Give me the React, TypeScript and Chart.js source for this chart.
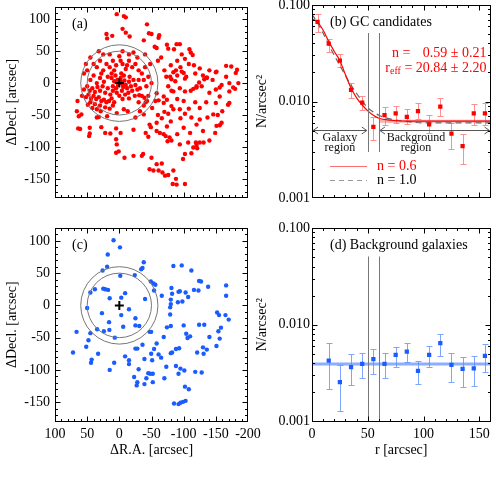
import React, { useEffect, useRef } from "react";
import { Chart, registerables } from "chart.js";

Chart.register(...registerables);

const SERIF = "'Liberation Serif', 'Times New Roman', Times, serif";

// ---------- tick labels ----------
const raTicks = [100, 50, 0, -50, -100, -150, -200];
const decTicks = [100, 50, 0, -50, -100, -150];
const rTicks = [0, 50, 100, 150];
const densityTicks = [0.001, 0.01, 0.1];
const densityLabels = ["0.001", "0.010", "0.100"];

// ---------- region / annotation values ----------
const centre = [0, 0];
const circleRadii = [50, 60];
const regionEdges = [50, 60];
const rMax = 160;

// ---------- (b) GC candidates radial profile ----------
const gcR = [5, 15, 25, 35, 45, 55, 65, 75, 85, 95, 105, 115, 125, 135, 145, 155];
const gcN = [0.0669, 0.0397, 0.0265, 0.0132, 0.00973, 0.00545, 0.00723, 0.00752, 0.00693, 0.00796, 0.0058, 0.00883, 0.00465, 0.00344, 0.00752, 0.00752];
const gcHi = [0.0805, 0.0448, 0.0307, 0.0157, 0.0114, 0.00693, 0.00883, 0.00898, 0.00835, 0.00957, 0.00723, 0.0108, 0.006, 0.00465, 0.00935, 0.00957];
const gcLo = [0.052, 0.0327, 0.0228, 0.0108, 0.00815, 0.00402, 0.00568, 0.00605, 0.0059, 0.00652, 0.00471, 0.00705, 0.00324, 0.00225, 0.00568, 0.00568];
const gcBackground = 0.00625;

// model curves
const modelR = [0, 5, 10, 15, 20, 25, 30, 35, 40, 45, 50, 55, 60, 70, 80, 90, 100, 120, 140, 160];
const sersic06 = [0.072, 0.0664, 0.0547, 0.042, 0.033, 0.0265, 0.0189, 0.0138, 0.0109, 0.0092, 0.008, 0.0072, 0.0067, 0.0064, 0.00628, 0.00625, 0.00625, 0.00625, 0.00625, 0.00625];
const sersic10 = [0.08, 0.065, 0.051, 0.039, 0.03, 0.0235, 0.0185, 0.0148, 0.0121, 0.0101, 0.0086, 0.0078, 0.0072, 0.0066, 0.0063, 0.0061, 0.006, 0.006, 0.006, 0.006];

// ---------- (d) background galaxies radial profile ----------
const bgR = [15, 25, 35, 45, 55, 65, 75, 85, 95, 105, 115, 125, 135, 145, 155];
const bgN = [0.00426, 0.00255, 0.00364, 0.00394, 0.0044, 0.00394, 0.00488, 0.00527, 0.00333, 0.00488, 0.00644, 0.00385, 0.00349, 0.00355, 0.00477];
const bgHi = [0.00644, 0.00385, 0.00496, 0.00515, 0.00562, 0.00507, 0.00594, 0.00644, 0.00426, 0.00608, 0.00803, 0.00507, 0.00468, 0.0048, 0.0063];
const bgLo = [0.00216, 0.00127, 0.00239, 0.0028, 0.0031, 0.00284, 0.00364, 0.00409, 0.00244, 0.00369, 0.0048, 0.00255, 0.00226, 0.00233, 0.00323];
const bgLevel = 0.00394;

// ---------- (a) GC candidate positions [dRA, dDec] ----------
const gcPositions = [
  [4, 108], [-7, 105], [-10, 103], [-5, 85], [-10, 79], [-16, 73], [20, 77], [19, 70], [11, 74], [-43, 92], [-46, 78], [-50, 77], [-62, 75], [-61, 71], [-38, 67], [-55, 57], [-58, 55], [-74, 60], [-76, 54], [-89, 61], [-94, 61], [-85, 53], [-109, 53], [-111, 48], [-97, 45], [-114, 44], [-102, 38], [-116, 28], [-125, 23],
  [-60, 35], [-70, 20], [-65, 40], [-80, 28], [-90, 35], [-88, 20], [-95, 25], [-108, 30], [-118, 15], [-130, 12], [-140, 20], [-145, 5], [-128, -5], [-140, -15], [-150, -10], [-135, -30], [-118, -30], [-100, -28], [-90, -25], [-108, -40], [-95, -55], [-80, -60], [-70, -45], [-60, -50], [-120, -65], [-130, -75], [-110, -78], [-100, -70], [-90, -80], [-140, -90],
  [65, -28], [66, -44], [63, -52], [59, -49], [64, -71], [61, -72], [46, -70], [46, -79], [47, -83], [35, -54], [32, -53], [28, -69], [22, -78], [14, -79], [5, -71], [5, -88], [4, -96], [5, -109], [1, -107], [-2, -78], [-8, -117], [-22, -73], [-22, -114], [-35, -114], [-37, -111], [-50, -117], [-41, -78], [-45, -84], [-49, -69], [-47, -65], [-58, -127], [-66, -126], [-61, -137], [-47, -135], [-53, -137], [-67, -140], [-71, -145], [-76, -144], [-84, -137], [-89, -159], [-102, -158], [-83, -158], [-88, -150], [-102, -111], [-112, -110], [-99, -119], [-115, -101], [-119, -93], [-125, -93], [-131, -93], [-120, -97], [-121, -102], [-107, -93], [-94, -96], [-78, -85], [-81, -90], [-75, -91], [-72, -83], [-69, -80], [-63, -78], [-58, -75], [-74, -68], [-58, -62], [-66, -55], [-76, -48], [-84, -41], [-94, -41], [-81, -36], [-102, -48], [-112, -54], [-125, -57], [-125, -39], [-137, -54], [-146, -49], [-150, -31], [-153, -50], [-160, -44], [-151, -67], [-156, -66], [-149, -78], [-159, -62], [-169, -34], [-171, -31], [-156, -21], [-171, -13], [-171, 0], [-166, 10], [-183, 21], [-181, 16], [-180, -9], [-177, -7], [-185, 0],
  [-174, 26], [-166, 27], [-151, 18], [-136, 8], [-124, 1], [-120, -5], [-111, -12], [-115, -9], [-102, -13], [-94, -8], [-84, -13], [-74, -26], [-69, -31], [-61, -27], [-56, -28], [-51, -39], [-43, -28], [-58, -16], [-69, -21], [-76, -5], [-81, -12], [-87, 3], [-102, 7], [-97, 18], [-100, 16], [-104, 10], [-84, 17], [-73, 10], [-79, 10], [-81, 6], [-90, 12], [-120, -7], [-136, 9], [-132, 6], [-150, 17], [-156, -7], [-159, -3],
  [-31, -19], [-39, -23], [-41, -30], [-32, -44], [-38, -49], [-25, -54], [-13, -44], [-7, -41], [4, -47], [19, -52], [29, -44], [35, -41], [42, -39], [49, -34],
  [0, 0], [-3, 2], [2, -3], [-5, -2], [3, 5], [-8, 4], [-6, -6], [5, -8], [-10, -3], [-12, -8], [-4, -12], [8, 3], [-2, 8], [-15, 2], [-7, 12], [10, -5], [-18, -5], [-20, -12], [-9, -18], [-14, -15], [4, -15], [-25, -3], [-22, 5], [-16, 10], [-3, 15], [6, 12], [12, 8], [-28, -10], [-24, -20], [-5, -25], [-15, -24], [0, -20],
  [58, -20], [52, -22], [48, -18], [44, -24], [40, -20], [36, -25], [32, -22], [28, -28], [24, -26], [20, -30], [16, -28], [12, -24], [8, -30], [45, -30], [38, -33], [30, -35], [22, -38], [15, -40], [10, -35], [55, -10], [50, -5], [46, -12], [42, -8], [38, -14], [34, -6], [30, -12], [26, -5], [22, -15], [18, -8], [14, -18], [10, -12],
  [40, 30], [35, 25], [30, 35], [25, 20], [20, 30], [15, 25], [10, 35], [5, 28], [-5, 30], [-10, 22], [-15, 35], [-20, 25], [-25, 30], [-30, 20], [-35, 15], [-40, 25], [-38, 5], [-42, -5], [-30, -30], [-35, -20], [-45, 10], [-30, 5], [-28, 40], [-15, 45], [0, 42], [15, 45], [25, 45], [32, 50], [45, 40], [50, 20], [55, 15], [45, 5], [52, 30], [-5, 50], [-22, 48], [-40, 45], [-48, 30], [-50, 0], [-45, -20], [18, 10], [24, 2], [30, 8], [35, 0], [40, 12], [28, 15], [12, 15], [-12, 28], [-2, 35], [8, 20], [-32, -8], [-38, -35],
];

// ---------- (c) background galaxy positions [dRA, dDec] ----------
const bgPositions = [
  [9, 101], [-1, 90], [18, 79], [19, 60], [26, 54], [-34, 56], [-36, 58], [-38, 67], [-24, 47], [-1.5, 46], [-49, 37], [-53, 34], [-56, 32], [-54, 23], [-40, 10], [-66, 15], [25, 26], [22, 25], [17.5, 24], [45, 20], [38, 25], [15, 11], [-3, 12], [-9, 19], [50, -4], [27, -12], [-3, -15], [-15, -6], [-25, -20], [16, -26],
  [-84, 61], [-97, 62], [-112, 54], [-81, 27], [-82, 18], [-92, 21], [-94, 22], [-80, 9], [-80, 2], [-79, -3], [-79, -14], [-91, 5], [-98, 6], [-103, 20], [-107, 13], [-116, 24], [-124, 38], [-127, 37], [-123, 23], [-138, 29], [-166, 31], [-166, 15], [-152, -11], [-155, -15], [-165, -15], [-170, -22],
  [66.5, -41], [72, -73], [51.5, -64], [48, -54], [45, -43], [34.5, -37], [24, -40], [15.5, -38], [7, -50], [-6, -33], [43, -84], [44, -89], [33, -75], [15, -100], [8, -89], [-9, -79], [-15, -85], [-15, -91], [-25, -67], [-28, -67], [-36, -61], [-39, -83], [-30, -99], [-23, -111], [-28, -119], [-27, -124], [-39, -122], [-42, -113], [-45, -105], [-48, -106], [-52, -106], [-52, -119], [-51, -85], [-49.5, -75], [-54, -67.5], [-58, -59], [-61, -76], [-65, -81], [-69, -49], [-73, -95], [-70, -113], [-80, -74], [-82, -73], [-88, -67.5], [-93, -66.5], [-88, -94], [-92, -106], [-95, -98], [-101, -101], [-102, -126], [-108, -130], [-85, -152], [-92, -153], [-95, -151], [-99, -149.5], [-103, -148], [-118, -103], [-128, -104], [-121, -73], [-131, -75], [-130, -65], [-136, -68.5], [-140, -49], [-151, -63], [-156, -51.5], [-154, -40], [-158, -34.5], [-49.5, -41], [-47, -41], [-106, -50.5], [-110, -48], [-104, -44], [-74, -34], [-80, -32], [-100, -31], [-124, -30], [-132, -30], [-25, -31], [-31, -32],
];

// ---------- helpers ----------
const RED = "#ff0000";
const BLUE = "#1a5cff";
const tickFont = { family: SERIF, size: 14 };
const titleFont = { family: SERIF, size: 14 };

function steps(a: number, b: number, s: number) {
  const out: number[] = [];
  for (let v = a; v <= b + 1e-9; v += s) out.push(v);
  return out;
}
const posMinor = steps(-200, 120, 10);
const rMinor = steps(0, 160, 10);
const logMinor = [2, 3, 4, 5, 6, 7, 8, 9].flatMap((m) => [m * 0.001, m * 0.01]);

const fix = (w?: number, h?: number) => (s: any) => {
  if (w !== undefined) s.width = w;
  if (h !== undefined) s.height = h;
  s.paddingLeft = 0;
  s.paddingRight = 0;
  s.paddingTop = 0;
  s.paddingBottom = 0;
};
const setTicks = (vals: number[]) => (s: any) => {
  s.ticks = vals.slice().sort((a, b) => a - b).map((v) => ({ value: v }));
};

function makeFrame(xMajor: number[], xMinor: number[], yMajor: number[], yMinor: number[]) {
  return {
    id: "idlFrame",
    afterDatasetsDraw(chart: any) {
      const { ctx, chartArea: a, scales } = chart;
      const x = scales.x;
      const y = scales.y;
      const L = Math.round(a.left) + 0.5;
      const R = Math.round(a.right) - 0.5;
      const T = Math.round(a.top) + 0.5;
      const B = Math.round(a.bottom) - 0.5;
      ctx.save();
      ctx.strokeStyle = "#000";
      ctx.lineWidth = 1;
      ctx.strokeRect(L, T, R - L, B - T);
      ctx.beginPath();
      const xt = (vals: number[], len: number) => {
        for (const v of vals) {
          const p = Math.round(x.getPixelForValue(v)) + 0.5;
          if (p < L - 0.1 || p > R + 0.1) continue;
          ctx.moveTo(p, B);
          ctx.lineTo(p, B - len);
          ctx.moveTo(p, T);
          ctx.lineTo(p, T + len);
        }
      };
      const yt = (vals: number[], len: number) => {
        for (const v of vals) {
          const p = Math.round(y.getPixelForValue(v)) + 0.5;
          if (p < T - 0.1 || p > B + 0.1) continue;
          ctx.moveTo(L, p);
          ctx.lineTo(L + len, p);
          ctx.moveTo(R, p);
          ctx.lineTo(R - len, p);
        }
      };
      xt(xMajor, 5);
      xt(xMinor, 2.5);
      yt(yMajor, 5);
      yt(yMinor, 2.5);
      ctx.stroke();
      ctx.restore();
    },
  };
}

function makeCircles() {
  return {
    id: "circles",
    afterDatasetsDraw(chart: any) {
      const { ctx, scales: { x, y } } = chart;
      const cx = x.getPixelForValue(centre[0]);
      const cy = y.getPixelForValue(centre[1]);
      ctx.save();
      ctx.strokeStyle = "#777";
      ctx.lineWidth = 1;
      for (const r of circleRadii) {
        const rx = Math.abs(x.getPixelForValue(r) - cx);
        const ry = Math.abs(y.getPixelForValue(r) - cy);
        ctx.beginPath();
        ctx.ellipse(cx, cy, rx, ry, 0, 0, Math.PI * 2);
        ctx.stroke();
      }
      ctx.restore();
    },
  };
}

function makeLabel(text: string, dx: number, dy: number) {
  return {
    id: "panelLabel",
    afterDatasetsDraw(chart: any) {
      const { ctx, chartArea: a } = chart;
      ctx.save();
      ctx.font = `14px ${SERIF}`;
      ctx.fillStyle = "#000";
      ctx.textAlign = "left";
      ctx.textBaseline = "middle";
      ctx.fillText(text, a.left + dx, a.top + dy);
      ctx.restore();
    },
  };
}

function makeErrorBars(xs: number[], lo: number[], hi: number[], color: string) {
  return {
    id: "errorBars",
    beforeDatasetsDraw(chart: any) {
      const { ctx, scales: { x, y } } = chart;
      ctx.save();
      ctx.strokeStyle = color;
      ctx.lineWidth = 1;
      ctx.beginPath();
      xs.forEach((r, i) => {
        const p = Math.round(x.getPixelForValue(r)) + 0.5;
        const y1 = Math.round(y.getPixelForValue(hi[i])) + 0.5;
        const y2 = Math.round(y.getPixelForValue(lo[i])) + 0.5;
        ctx.moveTo(p, y1);
        ctx.lineTo(p, y2);
        ctx.moveTo(p - 3, y1);
        ctx.lineTo(p + 3, y1);
        ctx.moveTo(p - 3, y2);
        ctx.lineTo(p + 3, y2);
      });
      ctx.stroke();
      ctx.restore();
    },
  };
}

function makeRegionLines(topOffset: number, bottomOffset: number | null) {
  return {
    id: "regionLines",
    afterDatasetsDraw(chart: any) {
      const { ctx, chartArea: a, scales: { x } } = chart;
      ctx.save();
      ctx.strokeStyle = "#777";
      ctx.lineWidth = 1;
      ctx.beginPath();
      for (const r of regionEdges) {
        const p = Math.round(x.getPixelForValue(r)) + 0.5;
        ctx.moveTo(p, a.top + topOffset);
        ctx.lineTo(p, bottomOffset === null ? a.bottom : a.top + bottomOffset);
      }
      ctx.stroke();
      ctx.restore();
    },
  };
}

const gcAnnotations = {
  id: "gcAnnotations",
  afterDatasetsDraw(chart: any) {
    const { ctx, chartArea: a, scales: { x } } = chart;
    ctx.save();
    // arrows
    const ay = Math.round(a.top + 125) + 0.5;
    ctx.strokeStyle = "#555";
    ctx.lineWidth = 1;
    const arrow = (r0: number, r1: number) => {
      const p0 = x.getPixelForValue(r0) + 1;
      const p1 = x.getPixelForValue(r1) - 1;
      ctx.beginPath();
      ctx.moveTo(p0, ay);
      ctx.lineTo(p1, ay);
      ctx.moveTo(p0 + 5, ay - 3.5);
      ctx.lineTo(p0, ay);
      ctx.lineTo(p0 + 5, ay + 3.5);
      ctx.moveTo(p1 - 5, ay - 3.5);
      ctx.lineTo(p1, ay);
      ctx.lineTo(p1 - 5, ay + 3.5);
      ctx.stroke();
    };
    arrow(0, regionEdges[0]);
    arrow(regionEdges[1], rMax);

    ctx.fillStyle = "#111";
    ctx.font = `12px ${SERIF}`;
    ctx.textAlign = "center";
    ctx.textBaseline = "middle";
    const gx = x.getPixelForValue(25);
    ctx.fillText("Galaxy", gx, a.top + 133);
    ctx.fillText("region", gx, a.top + 143);
    const bx = a.left + 104;
    ctx.fillText("Background", bx, a.top + 133);
    ctx.fillText("region", bx, a.top + 143);

    // fit results
    ctx.font = `14px ${SERIF}`;
    ctx.fillStyle = RED;
    ctx.textAlign = "left";
    ctx.fillText("n =", a.left + 80, a.top + 48);
    ctx.textAlign = "right";
    ctx.fillText("0.59 ± 0.21", a.right - 4, a.top + 48);
    const rest = " = 20.84 ± 2.20";
    const wRest = ctx.measureText(rest).width;
    const wR = ctx.measureText("r").width;
    ctx.font = `10px ${SERIF}`;
    const wEff = ctx.measureText("eff").width;
    const startX = a.right - 4 - wRest - wEff - wR;
    ctx.textAlign = "left";
    ctx.fillText("eff", startX + wR, a.top + 66);
    ctx.font = `14px ${SERIF}`;
    ctx.fillText("r", startX, a.top + 63);
    ctx.fillText(rest, startX + wR + wEff, a.top + 63);

    // legend
    const lx0 = a.left + 18;
    const lx1 = a.left + 55;
    ctx.strokeStyle = "#ff6f6f";
    ctx.lineWidth = 1;
    ctx.beginPath();
    ctx.moveTo(lx0, Math.round(a.top + 160.5) + 0.5);
    ctx.lineTo(lx1, Math.round(a.top + 160.5) + 0.5);
    ctx.stroke();
    ctx.strokeStyle = "#999";
    ctx.setLineDash([5, 4]);
    ctx.beginPath();
    ctx.moveTo(lx0, Math.round(a.top + 175) + 0.5);
    ctx.lineTo(lx1, Math.round(a.top + 175) + 0.5);
    ctx.stroke();
    ctx.setLineDash([]);
    ctx.fillStyle = RED;
    ctx.fillText("n = 0.6", a.left + 65, a.top + 161);
    ctx.fillStyle = "#000";
    ctx.fillText("n = 1.0", a.left + 65, a.top + 175);
    ctx.restore();
  },
};

const common = {
  animation: false,
  responsive: false,
  maintainAspectRatio: false,
  events: [],
};
const noPlugins = { legend: { display: false }, tooltip: { enabled: false } };

function posScales(showX: boolean) {
  return {
    x: {
      type: "linear",
      min: -200,
      max: 100,
      reverse: true,
      afterBuildTicks: setTicks(raTicks),
      ticks: { display: showX, font: tickFont, color: "#000", padding: 4, autoSkip: false, maxRotation: 0, callback: (v: number) => String(v) },
      grid: { display: false, drawTicks: false },
      border: { display: false },
      title: { display: showX, text: "ΔR.A. [arcsec]", font: titleFont, color: "#000", padding: { top: 0, bottom: 0 } },
      afterFit: fix(undefined, showX ? 37 : 0),
    },
    y: {
      type: "linear",
      min: -180,
      max: 120,
      afterBuildTicks: setTicks(decTicks),
      ticks: { font: tickFont, color: "#000", padding: 5, autoSkip: false, callback: (v: number) => String(v) },
      grid: { display: false, drawTicks: false },
      border: { display: false },
      title: { display: true, text: "ΔDecl. [arcsec]", font: titleFont, color: "#000", padding: { top: 4, bottom: 0 } },
      afterFit: fix(55, undefined),
    },
  };
}

function profScales(showX: boolean) {
  return {
    x: {
      type: "linear",
      min: 0,
      max: rMax,
      afterBuildTicks: setTicks(rTicks),
      ticks: { display: showX, font: tickFont, color: "#000", padding: 4, autoSkip: false, maxRotation: 0, callback: (v: number) => String(v) },
      grid: { display: false, drawTicks: false },
      border: { display: false },
      title: { display: showX, text: "r [arcsec]", font: titleFont, color: "#000", padding: { top: 0, bottom: 0 } },
      afterFit: fix(undefined, showX ? 37 : 0),
    },
    y: {
      type: "logarithmic",
      min: 0.001,
      max: 0.1,
      afterBuildTicks: setTicks(densityTicks),
      ticks: { font: tickFont, color: "#000", padding: 2, autoSkip: false, callback: (_v: number, i: number) => densityLabels[i] },
      grid: { display: false, drawTicks: false },
      border: { display: false },
      title: { display: true, text: "N/arcsec²", font: titleFont, color: "#000", padding: { top: 4, bottom: 0 } },
      afterFit: fix(62, undefined),
    },
  };
}

const posFrame = () => makeFrame(raTicks, posMinor, decTicks, posMinor);
const profFrame = () => makeFrame(rTicks, rMinor, densityTicks, logMinor);

// Chart.js draws datasets with the lowest `order` last (on top)
function makeA(cv: HTMLCanvasElement) {
  return new Chart(cv, {
    type: "scatter",
    data: {
      datasets: [
        { order: 2, data: gcPositions.map(([x, y]) => ({ x, y })), pointRadius: 2.2, pointBackgroundColor: RED, backgroundColor: RED, pointBorderWidth: 0, borderWidth: 0 },
        { order: 1, data: [{ x: centre[0], y: centre[1] }], pointStyle: "cross", pointRadius: 4.5, pointBorderColor: "#000", borderColor: "#000", pointBorderWidth: 2, borderWidth: 2 },
      ],
    },
    options: { ...common, layout: { padding: { left: 0, top: 5, right: 8, bottom: 17 } }, plugins: noPlugins, scales: posScales(false) },
    plugins: [makeCircles(), posFrame(), makeLabel("(a)", 17, 17.5)],
  } as any);
}

function makeC(cv: HTMLCanvasElement) {
  return new Chart(cv, {
    type: "scatter",
    data: {
      datasets: [
        { order: 2, data: bgPositions.map(([x, y]) => ({ x, y })), pointRadius: 2.2, pointBackgroundColor: BLUE, backgroundColor: BLUE, pointBorderWidth: 0, borderWidth: 0 },
        { order: 1, data: [{ x: centre[0], y: centre[1] }], pointStyle: "cross", pointRadius: 4.5, pointBorderColor: "#000", borderColor: "#000", pointBorderWidth: 2, borderWidth: 2 },
      ],
    },
    options: { ...common, layout: { padding: { left: 0, top: 13, right: 14, bottom: 37.5 } }, plugins: noPlugins, scales: posScales(true) },
    plugins: [makeCircles(), posFrame(), makeLabel("(c)", 17, 17.5)],
  } as any);
}

function makeB(cv: HTMLCanvasElement) {
  return new Chart(cv, {
    type: "scatter",
    data: {
      datasets: [
        { order: 4, data: [regionEdges[1], rMax].map((x) => ({ x, y: gcBackground })), showLine: true, borderColor: "rgba(255,110,110,0.55)", borderWidth: 3, pointRadius: 0 },
        { order: 3, data: modelR.map((x, i) => ({ x, y: sersic10[i] })), showLine: true, borderColor: "#666", borderWidth: 1.2, borderDash: [6, 4], pointRadius: 0, cubicInterpolationMode: "monotone" },
        { order: 2, data: modelR.map((x, i) => ({ x, y: sersic06[i] })), showLine: true, borderColor: RED, borderWidth: 1.2, pointRadius: 0, cubicInterpolationMode: "monotone" },
        { order: 1, data: gcR.map((x, i) => ({ x, y: gcN[i] })), pointStyle: "rect", pointRadius: 3, pointBackgroundColor: RED, backgroundColor: RED, pointBorderWidth: 0, borderWidth: 0 },
      ],
    },
    options: { ...common, layout: { padding: { left: 0, top: 5, right: 5.5, bottom: 17 } }, plugins: noPlugins, scales: profScales(false) },
    plugins: [makeErrorBars(gcR, gcLo, gcHi, "#ff8f8f"), makeRegionLines(28, 147), gcAnnotations, profFrame(), makeLabel("(b) GC candidates", 18, 17)],
  } as any);
}

function makeD(cv: HTMLCanvasElement) {
  return new Chart(cv, {
    type: "scatter",
    data: {
      datasets: [
        { order: 2, data: [0, rMax].map((x) => ({ x, y: bgLevel })), showLine: true, borderColor: "rgba(90,140,255,0.7)", borderWidth: 3, pointRadius: 0 },
        { order: 1, data: bgR.map((x, i) => ({ x, y: bgN[i] })), pointStyle: "rect", pointRadius: 3, pointBackgroundColor: BLUE, backgroundColor: BLUE, pointBorderWidth: 0, borderWidth: 0 },
      ],
    },
    options: { ...common, layout: { padding: { left: 0, top: 13, right: 5.5, bottom: 37.5 } }, plugins: noPlugins, scales: profScales(true) },
    plugins: [makeErrorBars(bgR, bgLo, bgHi, "#7ea6ff"), makeRegionLines(28.5, null), profFrame(), makeLabel("(d) Background galaxies", 18, 17)],
  } as any);
}

export default function App() {
  const refA = useRef<HTMLCanvasElement>(null);
  const refB = useRef<HTMLCanvasElement>(null);
  const refC = useRef<HTMLCanvasElement>(null);
  const refD = useRef<HTMLCanvasElement>(null);

  useEffect(() => {
    const charts = [makeA(refA.current!), makeB(refB.current!), makeC(refC.current!), makeD(refD.current!)];
    return () => charts.forEach((c) => c.destroy());
  }, []);

  const cs = (left: number, top: number, w: number, h: number): React.CSSProperties => ({
    position: "absolute",
    left,
    top,
    width: w,
    height: h,
    display: "block",
  });

  return (
    <div style={{ position: "fixed", left: 0, top: 0, width: 496, height: 496, background: "#fff", overflow: "hidden" }}>
      <canvas ref={refA} width={256} height={215} style={cs(0, 0, 256, 215)} />
      <canvas ref={refB} width={246} height={215} style={cs(250, 0, 246, 215)} />
      <canvas ref={refC} width={262} height={281} style={cs(0, 215, 262, 281)} />
      <canvas ref={refD} width={246} height={281} style={cs(250, 215, 246, 281)} />
    </div>
  );
}
